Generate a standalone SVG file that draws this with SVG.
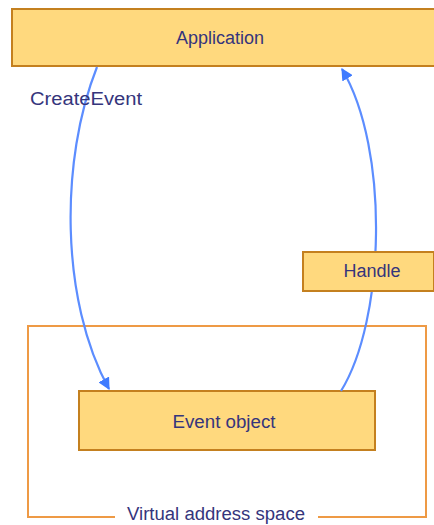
<svg xmlns="http://www.w3.org/2000/svg" width="434" height="525" viewBox="0 0 434 525">
  <style>
    .box { fill: #FFD97E; stroke: #C4801F; stroke-width: 2; }
    .lbl { font-family: "Liberation Sans", Arial, sans-serif; font-size: 18px; fill: #35357C; }
    .mid { text-anchor: middle; }
    .flow { fill: none; stroke: #5C8DFF; stroke-width: 2.2; }
    .frame { fill: none; stroke: #EE9A45; stroke-width: 2; }
  </style>
  <defs>
    <marker id="arrow" viewBox="0 0 10 10" refX="9" refY="5" markerWidth="5.5" markerHeight="5.5" orient="auto" markerUnits="strokeWidth">
      <path d="M0,0 L10,5 L0,10 Z" fill="#3F7BFF"/>
    </marker>
  </defs>
  <rect width="434" height="525" fill="#FFFFFF"/>

  <!-- Virtual address space container -->
  <g id="address-space">
    <path class="frame" d="M115,517 H28 V326 H426 V517 H318"/>
    <text class="lbl mid" x="216" y="520" textLength="178" lengthAdjust="spacingAndGlyphs">Virtual address space</text>
  </g>

  <g id="application">
    <rect class="box" x="12" y="9" width="430" height="57"/>
    <text class="lbl mid" x="220" y="44">Application</text>
  </g>

  <g id="event-object">
    <rect class="box" x="79" y="391" width="296" height="59"/>
    <text class="lbl mid" x="224" y="428" textLength="103" lengthAdjust="spacingAndGlyphs">Event object</text>
  </g>

  <g id="connectors">
    <path class="flow" d="M97,67 C60,160 60,300 109,389" marker-end="url(#arrow)"/>
    <path class="flow" d="M341,391 C385,320 390,150 342,69" marker-end="url(#arrow)"/>
    <text class="lbl" x="30" y="105" textLength="112" lengthAdjust="spacingAndGlyphs">CreateEvent</text>
  </g>

  <g id="handle">
    <rect class="box" x="303" y="252" width="131" height="39"/>
    <text class="lbl mid" x="372" y="277">Handle</text>
  </g>
</svg>
